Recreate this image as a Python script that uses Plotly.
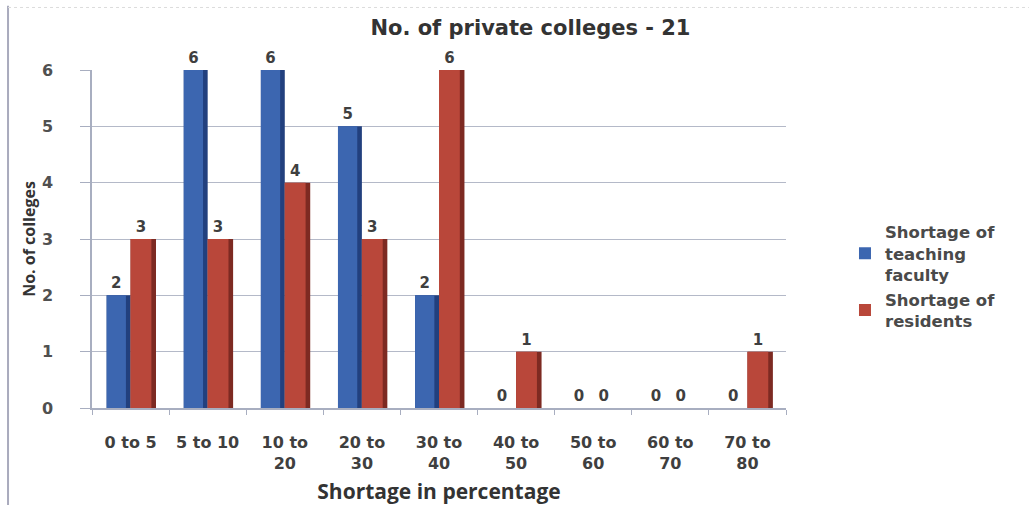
import plotly.graph_objects as go

categories = ["0 to 5", "5 to 10", "10 to<br>20", "20 to<br>30", "30 to<br>40",
              "40 to<br>50", "50 to<br>60", "60 to<br>70", "70 to<br>80"]
teaching_faculty = [2, 6, 6, 5, 2, 0, 0, 0, 0]
residents = [3, 3, 4, 3, 6, 1, 0, 0, 1]
y_ticks = [0, 1, 2, 3, 4, 5, 6]

WIDE = "DejaVu Sans"
SANS = "Open Sans"
TXT = "#3f3f3f"
BLUE, BLUE_SIDE = "#3c66b0", "#22407e"
RED, RED_SIDE = "#b9473a", "#7d2a22"

fig = go.Figure()
# depth (side) faces
fig.add_trace(go.Bar(x=categories, y=teaching_faculty, width=0.31, offset=-0.31,
                     marker=dict(color=BLUE_SIDE, line=dict(width=0)),
                     showlegend=False, hoverinfo="skip"))
fig.add_trace(go.Bar(x=categories, y=residents, width=0.33, offset=0.0,
                     marker=dict(color=RED_SIDE, line=dict(width=0)),
                     showlegend=False, hoverinfo="skip"))
# front faces
fig.add_trace(go.Bar(x=categories, y=teaching_faculty, width=0.25, offset=-0.31,
                     name="Shortage of<br>teaching<br>faculty",
                     marker=dict(color=BLUE, line=dict(width=0)),
                     text=teaching_faculty, textposition="outside", cliponaxis=False,
                     textfont=dict(family=WIDE, size=15, color=TXT, weight="bold")))
fig.add_trace(go.Bar(x=categories, y=residents, width=0.27, offset=0.0,
                     name="Shortage of<br>residents",
                     marker=dict(color=RED, line=dict(width=0)),
                     text=residents, textposition="outside", cliponaxis=False,
                     textfont=dict(family=WIDE, size=15, color=TXT, weight="bold")))

fig.update_layout(
    width=1034, height=505,
    margin=dict(l=92, r=248, t=70, b=97, autoexpand=False),
    paper_bgcolor="white", plot_bgcolor="white",
    barmode="overlay",
    title=dict(text="No. of private colleges - 21", x=0.513, xref="container",
               xanchor="center", y=0.945, yanchor="middle",
               font=dict(family=WIDE, size=21, color="#333333", weight="bold")),
    legend=dict(x=1.085, y=0.572, xanchor="left", yanchor="top",
                font=dict(family=WIDE, size=16.5, color="#4a4a4a", weight="bold"),
                traceorder="normal", tracegroupgap=0, itemwidth=30),
    shapes=[
        dict(type="line", xref="paper", yref="paper", x0=-0.121, x1=-0.121,
             y0=-0.30, y1=1.19, line=dict(color="#a9abbd", width=2)),
        dict(type="line", xref="paper", yref="paper", x0=-0.121, x1=1.35,
             y0=1.185, y1=1.185, line=dict(color="#dcdcdc", width=1, dash="dot")),
    ],
)
fig.update_xaxes(
    type="category", range=[-0.5, 8.5],
    showline=True, linecolor="#a8aec0", linewidth=1.5,
    ticks="outside", tickson="boundaries", ticklen=5, tickcolor="#a8aec0",
    ticklabelstandoff=19,
    tickfont=dict(family=WIDE, size=16, color=TXT, weight="bold"),
    title=dict(text="Shortage in percentage", standoff=16,
               font=dict(family=SANS, size=21, color="#333333", weight="bold")),
    showgrid=False,
)
fig.update_yaxes(
    range=[0, 6], tickvals=y_ticks,
    showline=True, linecolor="#a8aec0", linewidth=1.5,
    ticks="outside", ticklen=10, tickcolor="#a8aec0",
    ticklabelstandoff=24,
    tickfont=dict(family=WIDE, size=16, color="#505050", weight="bold"),
    showgrid=True, gridcolor="#b4b9c8", gridwidth=1.2,
    zeroline=False,
    title=dict(text="No. of colleges", standoff=2,
               font=dict(family=SANS, size=16, color="#333333", weight="bold")),
)

fig.write_html("out.html")
